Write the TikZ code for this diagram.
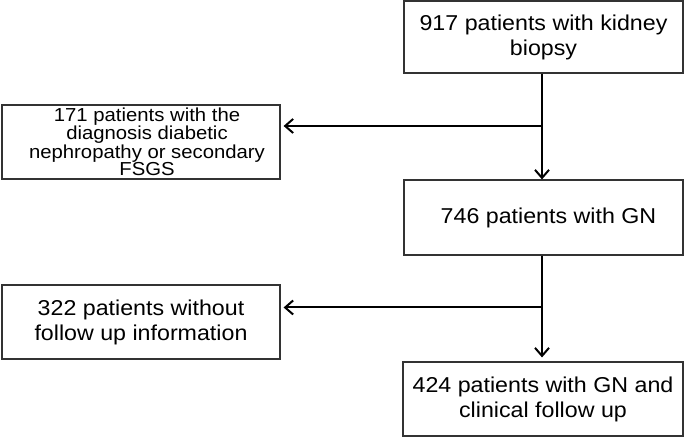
\documentclass[tikz,border=0pt]{standalone}
\usepackage{fontspec}
\setmainfont{Liberation Sans}[FakeStretch=1.08]
\usetikzlibrary{arrows.meta}
\tikzset{
  box/.style={draw=black!80, line width=1.2bp, inner sep=0pt, align=center,
    minimum width=278bp, minimum height=74bp,
    font=\fontsize{21.5bp}{25bp}\selectfont},
  smallbox/.style={box, font=\fontsize{18.8bp}{17.5bp}\selectfont},
  flowarrow/.style={line width=2bp, -{Straight Barb[length=8bp,width=14bp,line width=2bp]}}
}
\begin{document}
\begin{tikzpicture}[x=1bp, y=1bp]
\useasboundingbox (0,0) rectangle (685,437);
% boxes
\node[box, minimum width=279bp, minimum height=72bp] (biopsy) at (543.5,400) {917 patients with kidney\\biopsy};
\node[smallbox] (excluded) at (141,295) {\hspace{12bp}171 patients with the\\\hspace{12bp}diagnosis diabetic\\\hspace{12bp}nephropathy or secondary\\\hspace{12bp}FSGS};
\node[box, minimum width=279bp, minimum height=75bp] (gn) at (543.5,219.5) {\hspace{10bp}746 patients with GN};
\node[box] (nofollow) at (141,115) {322 patients without\\follow up information};
\node[box, minimum width=280bp] (followup) at (543,38) {424 patients with GN and\\clinical follow up};
% connectors
\coordinate (split1) at (542,311);
\coordinate (split2) at (542,129.5);
\draw[flowarrow] (biopsy.south -| split1) -- (gn.north -| split1);
\draw[flowarrow, shorten >=3bp] (split1) -- (split1 -| excluded.east);
\draw[flowarrow, shorten >=4bp] (gn.south -| split2) -- (followup.north -| split2);
\draw[flowarrow, shorten >=3bp] (split2) -- (split2 -| nofollow.east);
\end{tikzpicture}
\end{document}
